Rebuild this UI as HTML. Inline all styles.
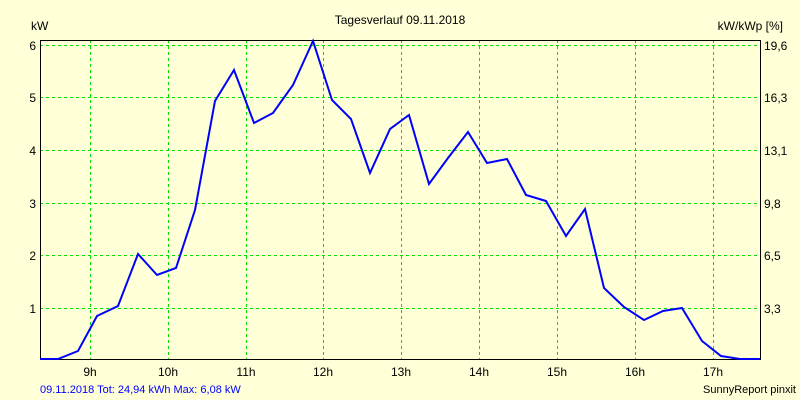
<!DOCTYPE html>
<html><head><meta charset="utf-8"><style>body{margin:0;background:#ffffd8}svg{display:block}text{font-family:"Liberation Sans",sans-serif;font-size:12px;fill:#000}</style></head><body>
<svg width="800" height="400" xmlns="http://www.w3.org/2000/svg">
<rect width="800" height="400" fill="#ffffd8"/>
<g stroke="#00e000" stroke-width="1" stroke-dasharray="3,3">
<line x1="40" y1="45.5" x2="760" y2="45.5"/><line x1="40" y1="97.5" x2="760" y2="97.5"/><line x1="40" y1="150.5" x2="760" y2="150.5"/><line x1="40" y1="203.5" x2="760" y2="203.5"/><line x1="40" y1="255.5" x2="760" y2="255.5"/><line x1="40" y1="308.5" x2="760" y2="308.5"/>
<line x1="90.5" y1="40" x2="90.5" y2="359"/><line x1="168.5" y1="40" x2="168.5" y2="359"/><line x1="246.5" y1="40" x2="246.5" y2="359"/><line x1="323.5" y1="40" x2="323.5" y2="359"/><line x1="401.5" y1="40" x2="401.5" y2="359"/><line x1="479.5" y1="40" x2="479.5" y2="359"/><line x1="557.5" y1="40" x2="557.5" y2="359"/><line x1="635.5" y1="40" x2="635.5" y2="359"/><line x1="713.5" y1="40" x2="713.5" y2="359"/>
</g>
<path d="M40.5 359.5V40.5H760.5V359.5H40.5" fill="none" stroke="#000" stroke-width="1"/>
<polyline fill="none" stroke="#0000ff" stroke-width="2" points="40,359 58,359 78,351 97,316 118,306 138,254 157,275 176,268 195,210 215,101 234,70 254,123 273,113 293,85 313,41 332,100 351,119 370,173 390,129 409,115 429,184 448,158 468,132 487,163 507,159 526,195 546,201 566,236 585,209 604,288 624,307 644,320 663,311 682,308 702,341 721,356 740,359 760,359"/>
<text x="400" y="24" text-anchor="middle">Tagesverlauf 09.11.2018</text>
<text x="31" y="30">kW</text>
<text x="783" y="30" text-anchor="end">kW/kWp [%]</text>
<g text-anchor="end"><text x="36" y="50">6</text><text x="36" y="102">5</text><text x="36" y="155">4</text><text x="36" y="208">3</text><text x="36" y="260">2</text><text x="36" y="313">1</text></g>
<g><text x="764" y="50">19,6</text><text x="764" y="102">16,3</text><text x="764" y="155">13,1</text><text x="764" y="208">9,8</text><text x="764" y="260">6,5</text><text x="764" y="313">3,3</text></g>
<g text-anchor="middle"><text x="90" y="376">9h</text><text x="168" y="376">10h</text><text x="246" y="376">11h</text><text x="323" y="376">12h</text><text x="401" y="376">13h</text><text x="479" y="376">14h</text><text x="557" y="376">15h</text><text x="635" y="376">16h</text><text x="713" y="376">17h</text></g>
<text x="40" y="393" style="font-size:11px;fill:#0000ff">09.11.2018 Tot: 24,94 kWh Max: 6,08 kW</text>
<text x="796" y="393" text-anchor="end" style="font-size:11px">SunnyReport pinxit</text>
</svg>
</body></html>
